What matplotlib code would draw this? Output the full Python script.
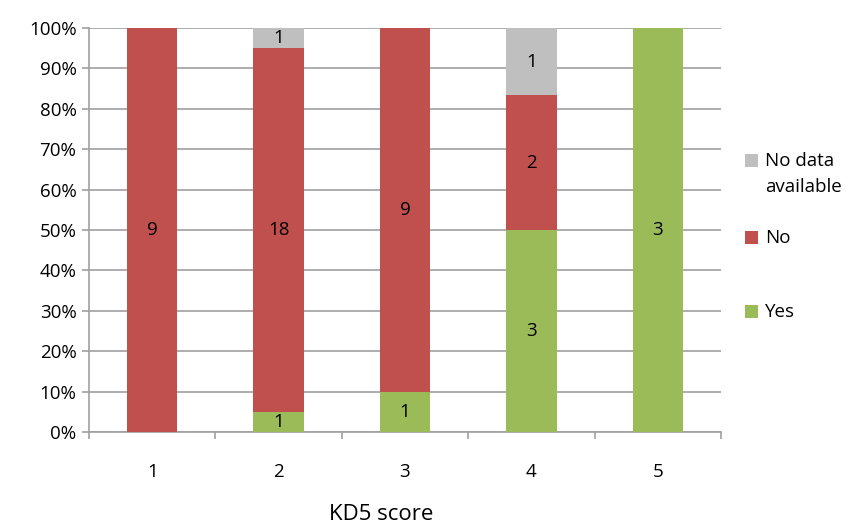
import numpy as np
import matplotlib.pyplot as plt
from matplotlib.patches import Rectangle
from matplotlib.ticker import PercentFormatter

# KD5 score categories and counts
categories = ['1', '2', '3', '4', '5']
yes = [0, 1, 1, 3, 3]
no = [9, 18, 9, 2, 0]
no_data = [0, 1, 0, 1, 0]

series_names = ['Yes', 'No', 'No data\navailable']
colors = ['#9BBB59', '#C0504D', '#BFBFBF']

plt.rcParams['font.family'] = ['Open Sans', 'DejaVu Sans']

counts = np.array([yes, no, no_data], dtype=float)
totals = counts.sum(axis=0)
pct = counts / totals * 100

W, H = 853, 525
fig = plt.figure(figsize=(W / 100, H / 100), dpi=100)
ax = fig.add_axes([89 / W, 1 - 432 / H, (721 - 89) / W, (432 - 28) / H])

x = np.arange(len(categories))
bottom = np.zeros(len(categories))
for i in range(3):
    ax.bar(x, pct[i], 0.4, bottom=bottom, color=colors[i], zorder=3)
    for j in range(len(categories)):
        if counts[i][j] > 0:
            ax.text(x[j], bottom[j] + pct[i][j] / 2, f'{int(counts[i][j])}',
                    ha='center', va='center', fontsize=13.5, color='black', zorder=4)
    bottom += pct[i]

ax.set_xlim(-0.5, len(categories) - 0.5)
ax.set_ylim(0, 100)
ax.set_yticks(np.arange(0, 101, 10))
ax.yaxis.set_major_formatter(PercentFormatter(decimals=0))
ax.yaxis.grid(True, color='#A0A0A0', linewidth=1.2, zorder=0)

ax.set_xticks(x)
ax.set_xticklabels(categories)
ax.set_xticks(np.arange(-0.5, len(categories)), minor=True)
ax.tick_params(axis='x', which='major', length=0, pad=22, labelsize=13.5)
ax.tick_params(axis='x', which='minor', length=5, color='#A0A0A0', width=1.2)
ax.tick_params(axis='y', length=5, color='#A0A0A0', width=1.2, labelsize=13.5, pad=4)

for s in ['top', 'right']:
    ax.spines[s].set_visible(False)
for s in ['left', 'bottom']:
    ax.spines[s].set_color('#A0A0A0')
    ax.spines[s].set_linewidth(1.2)

fig.text(381 / W, 1 - 515 / H, 'KD5 score', ha='center', va='center', fontsize=16)

# legend, drawn by hand so the square sits on the first text line
legend_y = [311, 237, 160]
for name, color, yy in zip(series_names, colors, legend_y):
    fig.patches.append(Rectangle((745 / W, 1 - (yy + 6.5) / H), 13 / W, 13 / H,
                                 transform=fig.transFigure, facecolor=color,
                                 edgecolor='none', figure=fig))
    fig.text(765 / W, 1 - (yy - 8) / H, name, ha='left', va='top',
             fontsize=13.5, linespacing=1.6)

fig.savefig('out.png', dpi=100)
